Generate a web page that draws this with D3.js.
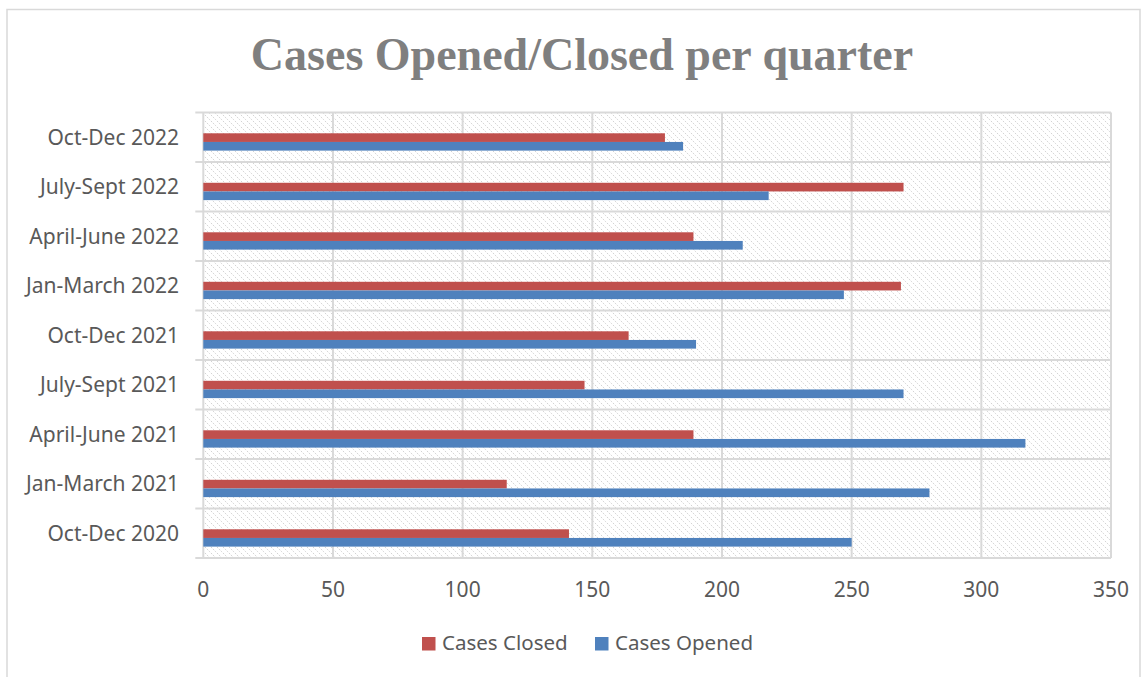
<!DOCTYPE html>
<meta charset="utf-8">
<script src="https://d3js.org/d3.v7.min.js"></script>
<style>
  body { margin: 0; background: #fff; }
  text { font-family: "Noto Sans", sans-serif; fill: #595959; }
</style>
<div id="chart"></div>
<script>

// quarters, top of the chart first
var quarters = ["Oct-Dec 2022", "July-Sept 2022", "April-June 2022", "Jan-March 2022",
  "Oct-Dec 2021", "July-Sept 2021", "April-June 2021", "Jan-March 2021", "Oct-Dec 2020"];
var casesClosed = [178, 270, 189, 269, 164, 147, 189, 117, 141];
var casesOpened = [185, 218, 208, 247, 190, 270, 317, 280, 250];
var xTicks = [0, 50, 100, 150, 200, 250, 300, 350];
var seriesNames = ["Cases Closed", "Cases Opened"];

var W = 1147, H = 677;
var margin = {top: 112.5, right: 36, bottom: 119, left: 203.3};

var svg = d3.select("#chart").append("svg")
  .attr("width", W)
  .attr("height", H);

// hatch fill for plot area
var pat = svg.append("defs").append("pattern")
  .attr("id", "hatch")
  .attr("patternUnits", "userSpaceOnUse")
  .attr("width", 6)
  .attr("height", 6);
pat.append("path")
  .attr("d", "M-1,-1 L7,7 M-1,5 L1,7 M5,-1 L7,1")
  .attr("stroke", "#d2d2d2")
  .attr("stroke-width", 1)
  .attr("stroke-dasharray", "1.5,1.2");

// outer frame
svg.append("rect")
  .attr("x", 7).attr("y", 9.5)
  .attr("width", 1133).attr("height", 720)
  .attr("fill", "none")
  .attr("stroke", "#d9d9d9")
  .attr("stroke-width", 1.5);

var x = d3.scaleLinear()
  .domain([0, 350])
  .range([margin.left, W - margin.right]);

var y = d3.scaleBand()
  .domain(quarters)
  .range([margin.top, H - margin.bottom])
  .padding(0);

var bw = y.bandwidth();

svg.append("rect")
  .attr("x", x(0)).attr("y", y.range()[0])
  .attr("width", x(350) - x(0))
  .attr("height", y.range()[1] - y.range()[0])
  .attr("fill", "url(#hatch)");

// vertical gridlines
svg.append("g")
  .selectAll("line")
  .data(xTicks)
  .join("line")
    .attr("x1", d => x(d)).attr("x2", d => x(d))
    .attr("y1", y.range()[0]).attr("y2", y.range()[1])
    .attr("stroke", "#d9d9d9")
    .attr("stroke-width", 2);

// horizontal lines between categories (with tick stubs on the left)
var bounds = quarters.map(d => y(d)).concat([y.range()[1]]);
svg.append("g")
  .selectAll("line")
  .data(bounds)
  .join("line")
    .attr("x1", x(0) - 8).attr("x2", x(350))
    .attr("y1", d => d).attr("y2", d => d)
    .attr("stroke", "#d9d9d9")
    .attr("stroke-width", 2);

// bars
var bars = svg.append("g");
bars.selectAll("rect.closed")
  .data(quarters)
  .join("rect")
    .attr("class", "closed")
    .attr("x", x(0))
    .attr("y", d => y(d) + bw * 0.42)
    .attr("width", (d, i) => x(casesClosed[i]) - x(0))
    .attr("height", bw * 0.175)
    .attr("fill", "#C0504D");
bars.selectAll("rect.opened")
  .data(quarters)
  .join("rect")
    .attr("class", "opened")
    .attr("x", x(0))
    .attr("y", d => y(d) + bw * 0.595)
    .attr("width", (d, i) => x(casesOpened[i]) - x(0))
    .attr("height", bw * 0.175)
    .attr("fill", "#4F81BD");

// category labels
svg.append("g")
  .selectAll("text")
  .data(quarters)
  .join("text")
    .attr("x", 179)
    .attr("y", d => y(d) + bw / 2 + 7.5)
    .attr("text-anchor", "end")
    .attr("font-size", 21)
    .text(d => d);

// x tick labels
svg.append("g")
  .selectAll("text")
  .data(xTicks)
  .join("text")
    .attr("x", d => x(d))
    .attr("y", 597)
    .attr("text-anchor", "middle")
    .attr("font-size", 21)
    .text(d => d);

// title
svg.append("text")
  .attr("x", 582)
  .attr("y", 70)
  .attr("text-anchor", "middle")
  .style("font-family", "'Liberation Serif', serif")
  .style("font-weight", "bold")
  .style("fill", "#7f7f7f")
  .attr("font-size", 46)
  .text("Cases Opened/Closed per quarter");

// legend
var legend = [
  {name: seriesNames[0], color: "#C0504D", x: 422},
  {name: seriesNames[1], color: "#4F81BD", x: 595}
];
var lg = svg.append("g").selectAll("g").data(legend).join("g");
lg.append("rect")
  .attr("x", d => d.x).attr("y", 637)
  .attr("width", 13.5).attr("height", 13.5)
  .attr("fill", d => d.color);
lg.append("text")
  .attr("x", d => d.x + 20)
  .attr("y", 650)
  .attr("font-size", 20.5)
  .text(d => d.name);

</script>
